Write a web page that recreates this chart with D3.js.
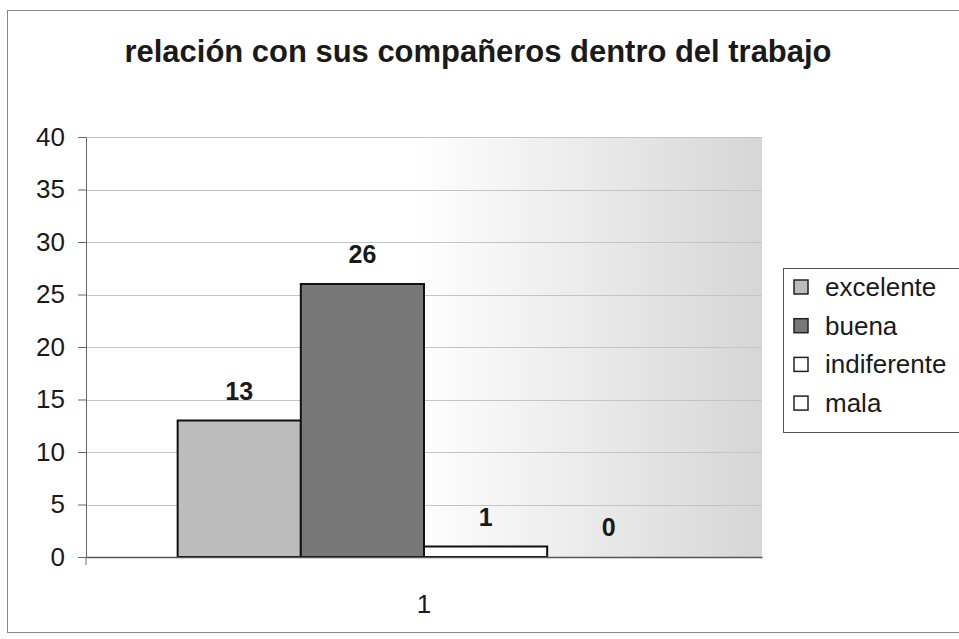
<!DOCTYPE html>
<html>
<head>
<meta charset="utf-8">
<script src="https://cdnjs.cloudflare.com/ajax/libs/d3/7.8.5/d3.min.js"></script>
<style>
body { margin: 0; background: #fff; }
svg text { font-family: "Liberation Sans", Arial, sans-serif; fill: #1a1a1a; }
</style>
</head>
<body>
<div id="chart"></div>
<script>
var title = "relación con sus compañeros dentro del trabajo";
var categories = ["1"];
var series = ["excelente", "buena", "indiferente", "mala"];
var values = [13, 26, 1, 0];
var colors = ["#bcbcbc", "#787878", "#ffffff", "#ffffff"];
var yTicks = [0, 5, 10, 15, 20, 25, 30, 35, 40];

var W = 959, H = 639;
var margin = {top: 137, left: 86, right: 197, bottom: 82};
var plotW = W - margin.left - margin.right;
var plotH = H - margin.top - margin.bottom;

var svg = d3.select("#chart").append("svg")
    .attr("width", W)
    .attr("height", H);

// outer frame
svg.append("rect")
    .attr("x", 7.5).attr("y", 10.5)
    .attr("width", 970).attr("height", 622)
    .attr("fill", "none")
    .attr("stroke", "#888")
    .attr("stroke-width", 1);

svg.append("text")
    .attr("x", 478)
    .attr("y", 62)
    .attr("text-anchor", "middle")
    .attr("textLength", 707)
    .attr("lengthAdjust", "spacingAndGlyphs")
    .style("font-size", "31px")
    .style("font-weight", "bold")
    .text(title);

var defs = svg.append("defs");
var grad = defs.append("linearGradient").attr("id", "bg");
grad.append("stop").attr("offset", "0%").attr("stop-color", "#ffffff");
grad.append("stop").attr("offset", "48%").attr("stop-color", "#ffffff");
grad.append("stop").attr("offset", "100%").attr("stop-color", "#d6d6d6");

var g = svg.append("g")
    .attr("transform", "translate(" + margin.left + "," + margin.top + ")");

var x0 = d3.scaleBand()
    .domain(categories)
    .range([0, plotW])
    .paddingInner(0)
    .paddingOuter(0.186);

var x1 = d3.scaleBand()
    .domain(series)
    .range([0, x0.bandwidth()]);

var y = d3.scaleLinear()
    .domain([0, 40])
    .range([plotH, 0]);

g.append("rect")
    .attr("width", plotW)
    .attr("height", plotH)
    .attr("fill", "url(#bg)");

// gridlines
g.selectAll(".grid")
    .data(yTicks.slice(1))
    .enter()
    .append("line")
    .attr("x1", 0).attr("x2", plotW)
    .attr("y1", function(d) { return Math.round(y(d)) + 0.5; })
    .attr("y2", function(d) { return Math.round(y(d)) + 0.5; })
    .attr("stroke", "#c4c4c4")
    .attr("stroke-width", 1);

// bars
var grp = g.selectAll(".cat")
    .data(categories)
    .enter()
    .append("g")
    .attr("transform", function(d) { return "translate(" + x0(d) + ",0)"; });

grp.selectAll("rect")
    .data(series.map(function(s, i) { return {s: s, v: values[i], c: colors[i]}; }).filter(function(d) { return d.v > 0; }))
    .enter()
    .append("rect")
    .attr("x", function(d) { return x1(d.s); })
    .attr("y", function(d) { return y(d.v); })
    .attr("width", x1.bandwidth())
    .attr("height", function(d) { return plotH - y(d.v); })
    .attr("fill", function(d) { return d.c; })
    .attr("stroke", "#111")
    .attr("stroke-width", 2);

grp.selectAll(".lbl")
    .data(series.map(function(s, i) { return {s: s, v: values[i]}; }))
    .enter()
    .append("text")
    .attr("x", function(d) { return x1(d.s) + x1.bandwidth() / 2; })
    .attr("y", function(d) { return y(d.v) - 21; })
    .attr("text-anchor", "middle")
    .style("font-size", "25px")
    .style("font-weight", "bold")
    .text(function(d) { return d.v; });

// axes
var yAxis = d3.axisLeft(y).tickValues(yTicks).tickSize(8).tickPadding(13);
var ya = g.append("g").call(yAxis);
ya.selectAll("text").style("font-size", "26px").attr("fill", "#1a1a1a");
ya.selectAll("line, path").attr("stroke", "#666");

var xa = g.append("g")
    .attr("transform", "translate(0," + plotH + ")")
    .call(d3.axisBottom(x0).tickSize(0).tickPadding(38));
xa.selectAll("text").style("font-size", "26px").attr("fill", "#1a1a1a");
xa.select("path").attr("stroke", "#555").attr("stroke-width", 1.5);
g.append("line")
    .attr("x1", 0).attr("x2", 0)
    .attr("y1", plotH).attr("y2", plotH + 8)
    .attr("stroke", "#666");

// legend
var legend = svg.append("g").attr("transform", "translate(783,268)");
legend.append("rect")
    .attr("x", 0.5).attr("y", 0.5)
    .attr("width", 190).attr("height", 164)
    .attr("fill", "#fff")
    .attr("stroke", "#555");

var li = legend.selectAll(".li")
    .data(series)
    .enter()
    .append("g")
    .attr("transform", function(d, i) { return "translate(11," + (19 + i * 38.7) + ")"; });

li.append("rect")
    .attr("x", 0).attr("y", -7)
    .attr("width", 14).attr("height", 14)
    .attr("fill", function(d, i) { return colors[i]; })
    .attr("stroke", "#222")
    .attr("stroke-width", 1.5);

li.append("text")
    .attr("x", 31)
    .attr("y", 9)
    .style("font-size", "26px")
    .text(function(d) { return d; });
</script>
</body>
</html>
